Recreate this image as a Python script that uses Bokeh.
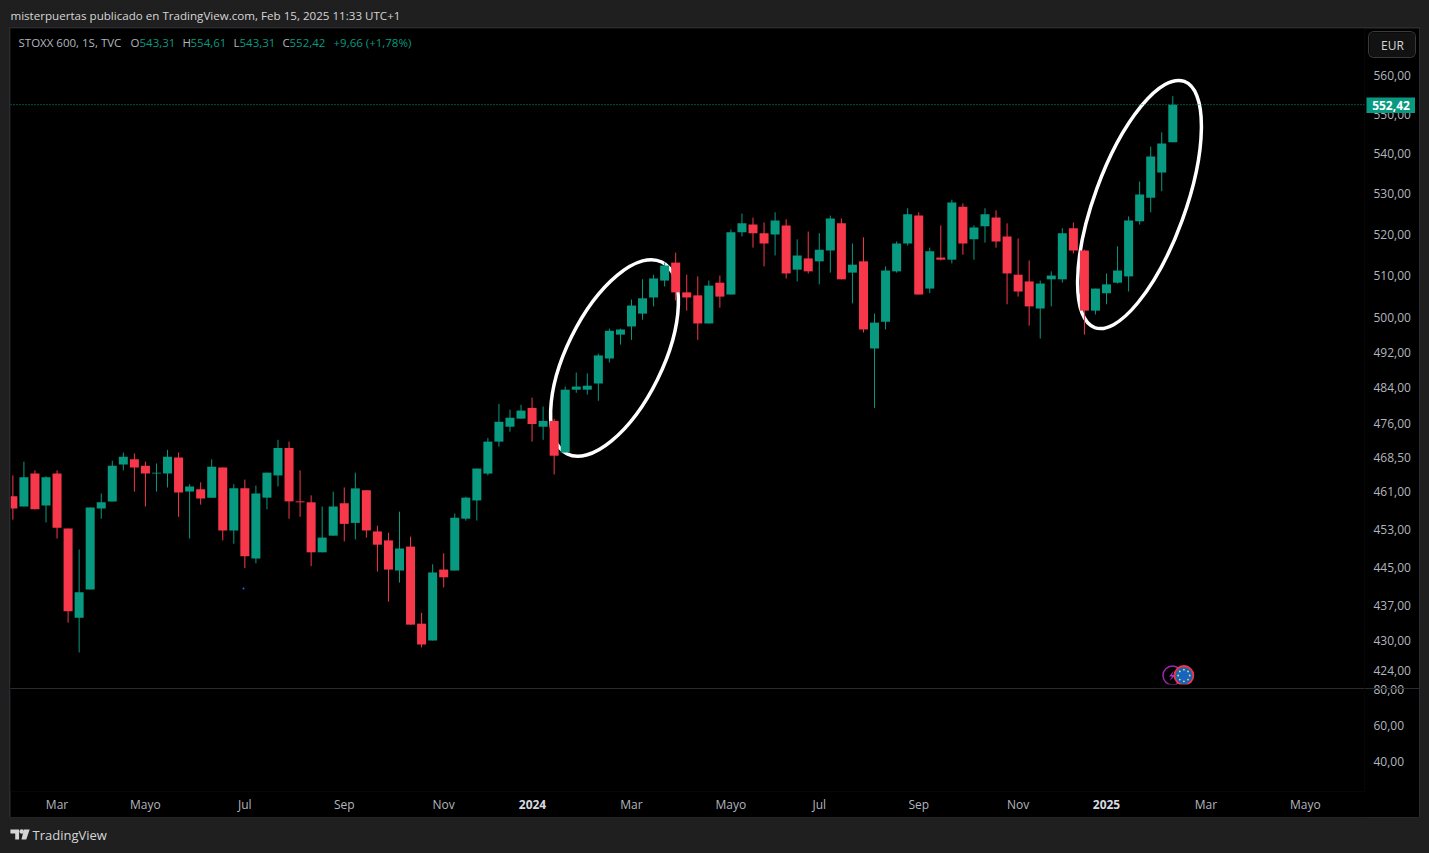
import math
import numpy as np
from bokeh.plotting import figure
from bokeh.layouts import column
from bokeh.models import FixedTicker, Label, Range1d, Span
from bokeh.core.properties import value
from bokeh.embed import file_html
from bokeh.resources import INLINE

opens = [460.0,457.8,464.9,458.0,464.9,453.1,434.6,440.4,457.4,458.9,
466.9,468.0,466.6,464.9,464.9,468.4,461.0,461.5,459.7,466.2,
452.7,461.7,446.8,459.7,464.5,470.5,458.9,458.7,448.1,451.6,
458.5,454.3,461.3,452.5,450.6,444.3,449.3,433.4,430.0,444.5,
444.3,455.2,459.1,464.9,471.9,475.2,477.0,479.4,475.2,476.5,
469.5,483.5,483.5,484.9,490.6,496.1,498.0,501.0,504.8,508.8,
513.1,506.0,505.3,498.7,508.3,505.5,520.4,522.3,520.2,519.9,
522.1,511.4,514.1,513.4,516.0,522.6,510.7,513.4,492.9,499.1,
511.0,517.7,524.5,506.9,514.3,513.8,526.7,518.7,521.9,524.0,
519.4,510.2,508.6,502.2,509.1,509.1,521.4,516.0,501.7,505.8,
508.3,509.8,523.1,528.9,535.2,542.8]
highs = [464.5,467.5,465.6,464.3,465.6,453.1,448.7,457.6,460.6,467.7,
469.5,469.3,467.5,467.1,470.1,469.5,462.6,463.0,468.0,466.2,
462.6,463.6,462.3,465.1,472.3,471.9,465.6,460.2,457.8,461.0,
461.9,465.1,461.3,453.7,452.2,456.7,451.4,435.6,445.6,447.9,
456.3,459.9,466.0,472.7,480.3,479.0,480.1,481.7,479.7,477.0,
484.2,487.4,487.2,491.7,497.5,497.5,504.3,509.1,510.2,513.1,
515.5,510.2,509.8,508.8,510.0,521.1,525.0,524.0,522.8,525.3,
523.6,518.7,520.6,520.2,524.5,523.8,517.7,519.2,501.0,512.2,
518.2,526.3,525.3,516.7,522.1,528.4,527.5,522.1,526.3,525.8,
522.6,518.9,513.6,508.8,511.0,521.4,522.8,516.2,506.9,510.5,
517.0,524.3,532.9,541.7,545.3,554.61]
lows = [455.0,457.8,457.2,454.4,451.0,433.6,427.6,440.4,455.2,458.9,
465.6,461.0,457.8,461.0,461.9,455.6,451.0,458.2,459.7,450.6,
449.9,444.8,445.8,457.2,462.1,455.2,455.6,445.2,448.1,451.6,
450.4,450.8,451.2,444.1,437.9,441.8,433.2,428.6,430.0,440.8,
444.3,454.8,454.8,464.5,470.8,474.1,477.0,471.9,472.3,464.7,
469.5,482.8,482.4,481.0,489.7,493.8,494.9,499.6,502.7,507.4,
504.1,501.7,494.9,498.7,502.4,505.5,519.4,516.7,512.2,514.8,
509.3,508.6,510.5,507.9,510.7,509.1,503.4,496.6,479.4,497.3,
510.7,517.2,505.5,505.8,513.6,512.9,515.0,513.8,517.9,516.7,
503.2,505.0,498.2,495.2,502.7,508.3,515.3,496.1,500.8,503.2,
508.1,506.2,522.3,525.3,530.5,542.8]
closes = [457.4,464.1,457.2,464.1,453.3,435.9,439.8,457.6,458.7,466.6,
468.6,466.2,464.9,465.1,468.6,460.8,462.1,459.5,466.4,452.7,
461.7,447.3,460.6,465.1,470.5,458.9,458.7,448.1,451.2,457.8,
454.1,461.7,452.7,449.7,444.5,448.9,433.2,429.2,443.9,442.9,
455.4,459.7,466.0,471.9,476.3,477.2,478.8,475.8,476.5,468.8,
483.5,484.2,484.4,491.3,497.0,497.3,502.9,504.6,509.3,512.4,
506.0,504.8,498.7,507.6,505.0,520.4,522.6,520.2,517.7,523.3,
510.5,514.8,511.0,516.2,523.8,509.1,512.6,497.3,498.9,511.2,
517.7,524.8,505.5,515.8,513.8,527.7,517.7,521.6,524.8,518.2,
510.5,506.2,502.7,508.1,510.0,520.2,516.0,501.7,506.9,507.9,
511.2,523.3,529.7,539.2,542.5,552.42]

price_ticks = [560, 550, 540, 530, 520, 510, 500, 492, 484, 476, 468.5, 461, 453, 445, 437, 430, 424]
lower_ticks = [80, 60, 40]
month_ticks = [4, 12, 21, 30, 39, 56, 65, 73, 82, 91, 108, 117]
month_labels = ["Mar", "Mayo", "Jul", "Sep", "Nov", "Mar", "Mayo", "Jul", "Sep", "Nov", "Mar", "Mayo"]
year_ticks = [47, 99]
year_labels = ["2024", "2025"]
last_price = 552.42

GREEN = "#089981"
RED = "#f7374a"
BG = "#1f1f1f"
AXIS = "#b2b5be"
FONT = "Open Sans"
FRAME = "#2a2b33"
shadow = {"box-shadow": f"0 0 0 1px {FRAME}"}

# screen position helpers for the decoration only
ix = lambda px: (px - 12.36) / 11.047
pr = lambda py: 560 * math.exp(-(py - 75) / 2139)


def chip(text, px, py, w, h, bg, color, bold=False, size="12px", extra=None):
    """small figure laid over the panes, for what must sit outside a plot frame"""
    st = {"position": "absolute", "left": f"{px - 8}px", "top": f"{py - 8}px", "z-index": "5",
          "width": f"{w}px", "height": f"{h}px"}
    st.update(extra or {})
    f = figure(width=w, height=h, x_range=(0, w), y_range=(0, h), output_backend="svg", toolbar_location=None,
               x_axis_location=None, y_axis_location=None, background_fill_color=bg, border_fill_color=bg,
               min_border=0, outline_line_color=None)
    f.grid.visible = False
    if text:
        f.text([w / 2], [h / 2], text=[text], text_font=value(FONT), text_font_size=size, text_color=color,
               text_font_style="bold" if bold else "normal", text_align="center", text_baseline="middle")
    return column(f, width=w, height=h, spacing=0, styles=st)


x_range = Range1d(ix(10), ix(1364))

# header strip
head = figure(width=1413, height=20, x_range=(8, 1421), y_range=Range1d(28, 8),
              output_backend="svg", toolbar_location=None, x_axis_location=None, y_axis_location=None,
              background_fill_color=BG, border_fill_color=BG, min_border=0, outline_line_color=None)
head.grid.visible = False
head.text([10], [15], text=["misterpuertas publicado en TradingView.com, Feb 15, 2025 11:33 UTC+1"],
          text_font=value(FONT), text_font_size="11.6px", text_color="#d6d6d6",
          text_baseline="middle", text_align="left")

# price pane
p = figure(width=1409, height=660, x_range=x_range, y_range=Range1d(420.46, 572.44), y_axis_type="log",
           y_axis_location="right", x_axis_location=None, output_backend="svg", toolbar_location=None,
           background_fill_color="black", border_fill_color="black", min_border_left=0, min_border_top=0,
           min_border_bottom=0, min_border_right=55, outline_line_color=None,
           margin=(0, 0, 0, 2), styles=shadow)
p.grid.visible = False
ax = p.yaxis[0]
ax.ticker = FixedTicker(ticks=price_ticks)
ax.major_label_overrides = {t: f"{t:.2f}".replace(".", ",") for t in price_ticks}
ax.axis_line_color = None
ax.major_tick_line_color = None
ax.minor_tick_line_color = None
ax.major_tick_out = 0
ax.major_tick_in = 0
ax.major_label_standoff = 9
ax.major_label_text_color = AXIS
ax.major_label_text_font = FONT
ax.major_label_text_font_size = "12px"

p.add_layout(Span(location=last_price, dimension="width", line_color=GREEN, line_width=1, line_dash="1 2"))

# hand drawn ellipses sit behind the candles
p.ellipse([ix(614)], [pr(357.5)], width=214, height=96, angle=math.radians(63.8),
          width_units="screen", height_units="screen", fill_color=None, line_color="white", line_width=3.5)
p.ellipse([ix(1139)], [pr(204)], width=262, height=91, angle=math.radians(70),
          width_units="screen", height_units="screen", fill_color=None, line_color="white", line_width=3.5)

xs = np.arange(len(opens))
o, h, l, c = map(np.array, (opens, highs, lows, closes))
colors = [GREEN if b >= a else RED for a, b in zip(opens, closes)]
p.segment(xs, h, xs, l, line_color=colors, line_width=1)
p.vbar(xs, 0.815, np.maximum(o, c), np.minimum(o, c), fill_color=colors, line_color=None)

p.scatter([ix(243)], [pr(588)], size=2, color="#2962ff", line_color=None)

# event badges
p.scatter([ix(1172)], [pr(675)], size=19, fill_color="black", line_color="#9c27b0", line_width=1.5)
p.patch([ix(v) for v in (1173, 1168.5, 1171.5, 1169, 1175, 1171.5)],
        [pr(v) for v in (670.5, 676, 676, 680.5, 674.5, 674.5)], color="#b52bc4", line_color=None)
p.scatter([ix(1183.4)], [pr(675)], size=19, fill_color="#1565c0", line_color="#f23645", line_width=1.8)
star_a = np.linspace(0, 2 * np.pi, 8, endpoint=False)
p.scatter([ix(1183.4 + 5.8 * math.cos(a)) for a in star_a], [pr(675 + 5.8 * math.sin(a)) for a in star_a],
          size=1.8, color="#ffd54f", line_color=None)

# legend line
lab_y = 660 - 14
legend_parts = [("STOXX 600, 1S, TVC", 8, AXIS), ("O", 120, AXIS), ("543,31", 129, GREEN), ("H", 172, AXIS),
                ("554,61", 180, GREEN), ("L", 223, AXIS), ("543,31", 229, GREEN), ("C", 272, AXIS),
                ("552,42", 279, GREEN), ("+9,66 (+1,78%)", 323, GREEN)]
for txt, lx, col in legend_parts:
    p.add_layout(Label(x=lx, y=lab_y, x_units="screen", y_units="screen", text=txt, text_color=col,
                       text_font=FONT, text_font_size="11.5px", text_baseline="middle"))

# lower pane with the time axis; it starts a little above the separator so the 80 label stays at its height
q = figure(width=1409, height=133, x_range=x_range, y_range=Range1d(23.33, 82.78), y_axis_location="right",
           output_backend="svg", toolbar_location=None, background_fill_color="black",
           border_fill_color="black", min_border_left=0, min_border_top=0, min_border_bottom=26,
           min_border_right=55, outline_line_color=None, margin=(-4, 0, 0, 2),
           styles={"box-shadow": f"1px 0 0 {FRAME}, -1px 0 0 {FRAME}, 0 1px 0 {FRAME}"})
q.grid.visible = False
q.add_layout(Span(location=80.55, dimension="width", line_color=FRAME, line_width=1))
ay = q.yaxis[0]
ay.ticker = FixedTicker(ticks=lower_ticks)
ay.major_label_overrides = {t: f"{t:.2f}".replace(".", ",") for t in lower_ticks}
ax2 = q.xaxis[0]
ax2.ticker = FixedTicker(ticks=month_ticks)
ax2.major_label_overrides = dict(zip(month_ticks, month_labels))
for a in (ay, ax2):
    a.axis_line_color = None
    a.major_tick_line_color = None
    a.minor_tick_line_color = None
    a.major_tick_out = 0
    a.major_tick_in = 0
    a.major_label_text_color = AXIS
    a.major_label_text_font = FONT
    a.major_label_text_font_size = "12px"
ay.major_label_standoff = 9
ax2.major_label_standoff = 4
q.scatter([0], [50], size=0, alpha=0)

# footer with the wordmark
foot = figure(width=1413, height=27, x_range=(8, 1421), y_range=Range1d(845, 818),
              output_backend="svg", toolbar_location=None, x_axis_location=None, y_axis_location=None,
              background_fill_color=BG, border_fill_color=BG, min_border=0, outline_line_color=None)
foot.grid.visible = False
foot.patches([[10, 19, 19, 15, 15, 10], [24, 30, 26.5, 21.5]],
             [[830, 830, 840, 840, 834, 834], [830, 830, 840, 840]], color="#d6d6d6", line_color=None)
foot.scatter([21.7], [832], size=4.5, color="#d6d6d6", line_color=None)
foot.text([33], [835], text=["TradingView"], text_font=value(FONT), text_font_size="13px",
          text_color="#d6d6d6", text_baseline="middle", text_align="left")

chips = [
    chip("552,42", 1366, 97, 49, 16, GREEN, "white", bold=True),
    chip("EUR", 1369, 32, 46, 25, "#121212", "#d6d6d6",
         extra={"border-radius": "5px", "overflow": "hidden", "box-shadow": "0 0 0 1px #3a3a3a"}),
    chip(None, 1365, 684, 54, 4, "black", "black", extra={"box-shadow": f"0 1px 0 {FRAME}"}),
]
for t, s in zip(year_ticks, year_labels):
    chips.append(chip(s, 12.36 + 11.047 * t - 17, 796, 34, 16, "black", "#d8dae0", bold=True))

layout = column(head, p, q, foot, *chips, spacing=0, margin=(8, 0, 0, 8))
html = file_html(layout, INLINE, title="STOXX 600")
html = html.replace("<head>", f"<head><style>html,body{{background:{BG};}}</style>", 1)
open("out.html", "w").write(html)
